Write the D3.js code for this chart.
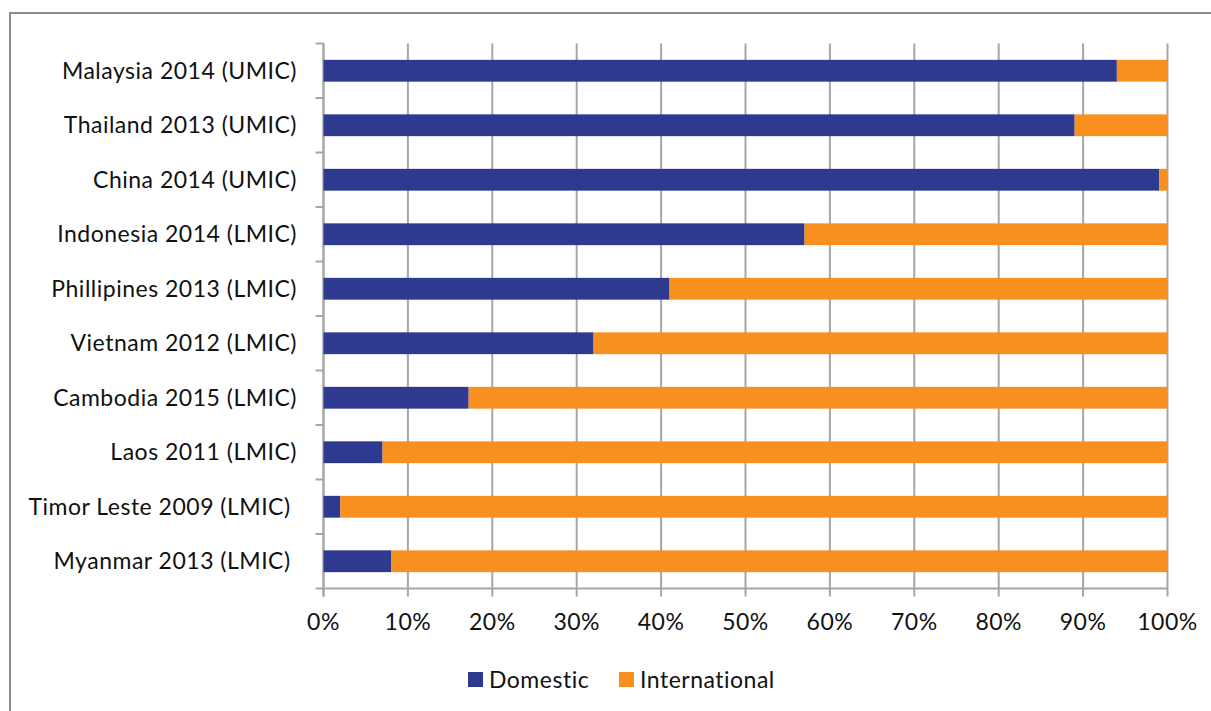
<!DOCTYPE html>
<html>
<head>
<meta charset="utf-8">
<title>Domestic vs International</title>
<script src="https://cdn.jsdelivr.net/npm/d3@7"></script>
<style>
  body { margin: 0; background: #fff; }
  svg text { font-family: Lato, "Open Sans", sans-serif; fill: #111; white-space: pre; letter-spacing: 0.5px; }
  .grid line { stroke: #a6a6a6; stroke-width: 2; }
</style>
</head>
<body>
<script>
// data
var categories = ["Malaysia 2014 (UMIC)", "Thailand 2013 (UMIC)", "China 2014 (UMIC)",
  "Indonesia 2014 (LMIC)", "Phillipines 2013 (LMIC)", "Vietnam 2012 (LMIC)",
  "Cambodia 2015 (LMIC)", "Laos 2011 (LMIC)", "Timor Leste 2009 (LMIC) ", "Myanmar 2013 (LMIC) "];
var domestic = [94, 89, 99, 57, 41, 32, 17.2, 7, 2, 8];
var international = domestic.map(function(d) { return 100 - d; });
var seriesNames = ["Domestic", "International"];
var colors = ["#2e3a8f", "#f7901e"];
var xTicks = [0, 10, 20, 30, 40, 50, 60, 70, 80, 90, 100];

var width = 1211, height = 711, fontSize = 23;
var plotLeft = 323.5, plotRight = 1167.5, plotTop = 43.5, plotBottom = 588.5;

var svg = d3.select("body").append("svg")
  .attr("width", width).attr("height", height);

// outer frame
svg.append("rect").attr("x", 10).attr("y", 13)
  .attr("width", 1210).attr("height", 710)
  .attr("fill", "none").attr("stroke", "#8c8c8c").attr("stroke-width", 2);

var x = d3.scaleLinear().domain([0, 100]).range([plotLeft, plotRight]);
var y = d3.scaleBand().domain(categories).range([plotTop, plotBottom]).paddingInner(0.6).paddingOuter(0.3);

// vertical gridlines
svg.append("g").attr("class", "grid")
  .selectAll("line").data(xTicks).enter().append("line")
  .attr("x1", function(d) { return x(d); }).attr("x2", function(d) { return x(d); })
  .attr("y1", plotTop).attr("y2", plotBottom + 8);

// category axis tick marks (between categories)
var bandStep = (plotBottom - plotTop) / categories.length;
var yTickPos = d3.range(categories.length + 1).map(function(i) { return plotTop + i * bandStep; });
svg.append("g").attr("class", "grid")
  .selectAll("line").data(yTickPos).enter().append("line")
  .attr("x1", plotLeft - 8).attr("x2", plotLeft).attr("y1", function(d) { return d; }).attr("y2", function(d) { return d; });
svg.append("g").attr("class", "grid").append("line")
  .attr("x1", plotLeft).attr("x2", plotLeft).attr("y1", plotTop).attr("y2", plotBottom + 8);
svg.append("g").attr("class", "grid").append("line")
  .attr("x1", plotLeft).attr("x2", plotRight).attr("y1", plotBottom).attr("y2", plotBottom);

// stacked bars
var rows = categories.map(function(c, i) { return { cat: c, Domestic: domestic[i], International: international[i] }; });
var stacked = d3.stack().keys(seriesNames)(rows);
svg.append("g").selectAll("g").data(stacked).enter().append("g")
  .attr("fill", function(d, i) { return colors[i]; })
  .selectAll("rect").data(function(d) { return d; }).enter().append("rect")
  .attr("x", function(d) { return x(d[0]); })
  .attr("width", function(d) { return x(d[1]) - x(d[0]); })
  .attr("y", function(d) { return y(d.data.cat); })
  .attr("height", y.bandwidth());

// category labels
svg.append("g").selectAll("text").data(categories).enter().append("text")
  .attr("x", 297).attr("y", function(d) { return y(d) + y.bandwidth() / 2; })
  .attr("dy", "0.35em").attr("text-anchor", "end")
  .attr("font-size", fontSize).text(function(d) { return d; });

// x tick labels
svg.append("g").selectAll("text").data(xTicks).enter().append("text")
  .attr("x", function(d) { return x(d); }).attr("y", 622)
  .attr("dy", "0.35em").attr("text-anchor", "middle")
  .attr("font-size", fontSize).text(function(d) { return d + "%"; });

// legend
var legendX = [468, 619];
var legend = svg.append("g").selectAll("g").data(seriesNames).enter().append("g")
  .attr("transform", function(d, i) { return "translate(" + legendX[i] + ",672)"; });
legend.append("rect").attr("width", 15).attr("height", 15)
  .attr("fill", function(d, i) { return colors[i]; });
legend.append("text").attr("x", 21).attr("y", 7.5).attr("dy", "0.35em")
  .attr("font-size", fontSize).text(function(d) { return d; });
</script>
</body>
</html>
